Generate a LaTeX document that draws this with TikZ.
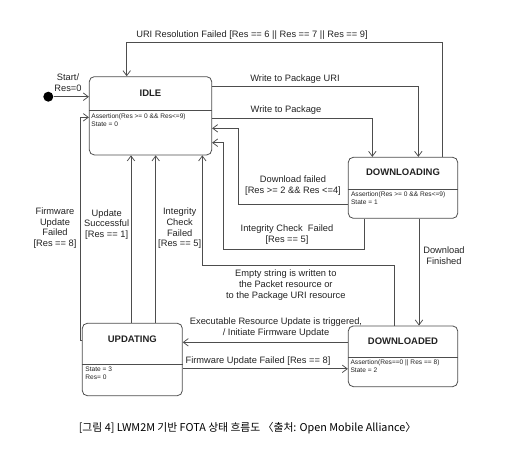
\documentclass[tikz,border=0pt]{standalone}
\usepackage{fontspec}
\setmainfont{Liberation Sans}
\newfontfamily\kofont{Noto Sans CJK KR}
\usetikzlibrary{arrows.meta,positioning,calc}
\definecolor{linegray}{HTML}{4D4D4D}
\definecolor{textgray}{HTML}{222222}

\begin{document}
\begin{tikzpicture}[x=1pt,y=-1pt,>={Straight Barb[length=5pt,width=7.5pt]},
    color=linegray,text=textgray,line width=0.75pt,
    state/.style={draw=linegray,rounded corners=5pt,line width=0.8pt,inner sep=0pt},
    title/.style={font=\fontsize{9.5}{11}\selectfont\bfseries,inner sep=0pt},
    body/.style={font=\fontsize{6.6}{7.6}\selectfont,align=left,anchor=north west,inner sep=0pt},
    lbl/.style={font=\fontsize{9.3}{10.8}\selectfont,align=center,inner sep=0pt},
    flow/.style={->}]
        \useasboundingbox (0,0) rectangle (515,450);
        % states
        \node [state,minimum width=122.4pt,minimum height=78.3pt] (idle) at (150.5,115.8) {};
        \node [state,minimum width=109.4pt,minimum height=61pt] (dlg) at (403,187.8) {};
        \node [state,minimum width=109.4pt,minimum height=60.7pt] (dld) at (403,356.3) {};
        \node [state,minimum width=100pt,minimum height=72.4pt] (upd) at (132.3,359.5) {};
        \draw (idle.west |- 0,110) -- (idle.east |- 0,110);
        \draw (dlg.west |- 0,189) -- (dlg.east |- 0,189);
        \draw (dld.west |- 0,357.3) -- (dld.east |- 0,357.3);
        \draw (upd.west |- 0,364.3) -- (upd.east |- 0,364.3);
        \node [title] (idletitle) at (idle.north |- 0,93.3) {IDLE};
        \node [title] (dlgtitle) at (dlg.north |- 0,172.7) {DOWNLOADING};
        \node [title] (dldtitle) at (dld.north |- 0,341.7) {DOWNLOADED};
        \node [title] (updtitle) at (upd.north |- 0,339) {UPDATING};
        \node [body] (idlebody) at (91,113.5) {Assertion(Res >= 0 \&\& Res<=9)\\State = 0};
        \node [body] (dlgbody) at (350.7,191.5) {Assertion(Res >= 0 \&\& Res<=9)\\State = 1};
        \node [body] (dldbody) at (350.2,359.8) {Assertion(Res==0 || Res == 8)\\State = 2};
        \node [body] (updbody) at (85,366.5) {State = 3\\Res= 0};
        % start
        \node [circle,fill=black,minimum size=10pt,inner sep=0pt] (init) at (48.3,96.7) {};
        \draw [flow] (init) -- (idle.west |- init);
        \node [lbl] (startlbl) at (68,83) {Start/\\Res=0};
        % transitions
        \draw [flow] (dlg.north -| 442.7,0) |- (126.7,42.7) -- (idle.north -| 126.7,0);
        \node [lbl] (urilbl) at (252,35) {URI Resolution Failed [Res == 6 || Res == 7 || Res == 9]};
        \draw [flow] (idle.east |- 0,86.7) -| (dlg.north -| 418.3,0);
        \node [lbl] (wurilbl) at (295,78.7) {Write to Package URI};
        \draw [flow] (idle.east |- 0,118.3) -| (dlg.north -| 372.3,0);
        \node [lbl] (wpkglbl) at (286,110) {Write to Package};
        \draw [flow] (dlg.west |- 0,204) -| (238.3,128.3) -- (idle.east |- 0,128.3);
        \node [lbl] (dfaillbl) at (293,185.3) {Download failed\\{}[Res >= 2 \&\& Res <=4]};
        \draw [flow] (dlg.south -| 364.3,0) |- (223.3,249.3) |- (idle.east |- 0,142.7);
        \node [lbl] (icflbl) at (287,234.5) {Integrity Check\ \ Failed\\{}[Res == 5]};
        \draw [flow] (dlg.south -| 419,0) -- (dld.north -| 419,0);
        \node [lbl] (dfinlbl) at (444,255.5) {Download\\Finished};
        \draw [flow] (dld.north -| 394.3,0) |- (202.3,265) -- (idle.south -| 202.3,0);
        \node [lbl] (emptylbl) at (285.8,285) {Empty string is written to\\the Packet resource or\\to the Package URI resource};
        \draw [flow] (dld.west |- 0,342.3) -- (upd.east |- 0,342.3);
        \node [lbl] (execlbl) at (276,327.3) {Executable Resource Update is triggered,\\/ Initiate Firmware Update};
        \draw [flow] (upd.east |- 0,368.8) -- (dld.west |- 0,368.8);
        \node [lbl] (fwflbl) at (258,361) {Firmware Update Failed [Res == 8]};
        \draw [flow] (upd.north -| 131,0) -- (idle.south -| 131,0);
        \node [lbl] (usuclbl) at (106.7,224.5) {Update\\Successful\\{}[Res == 1]};
        \draw [flow] (upd.north -| 155.7,0) -- (idle.south -| 155.7,0);
        \node [lbl] (icf2lbl) at (179.7,228.3) {Integrity\\Check\\Failed\\{}[Res == 5]};
        \draw [flow] (upd.west |- 0,340) -| (80,117.3) -- (idle.west |- 0,117.3);
        \node [lbl] (fwf2lbl) at (55,228) {Firmware\\Update\\Failed\\{}[Res == 8]};
        % caption
        \node [font=\kofont\fontsize{10.8}{13}\selectfont,text=black] (caption) at (247.5,428.3) {[그림 4] LWM2M 기반 FOTA 상태 흐름도 〈출처: Open Mobile Alliance〉};
\end{tikzpicture}
\end{document}
